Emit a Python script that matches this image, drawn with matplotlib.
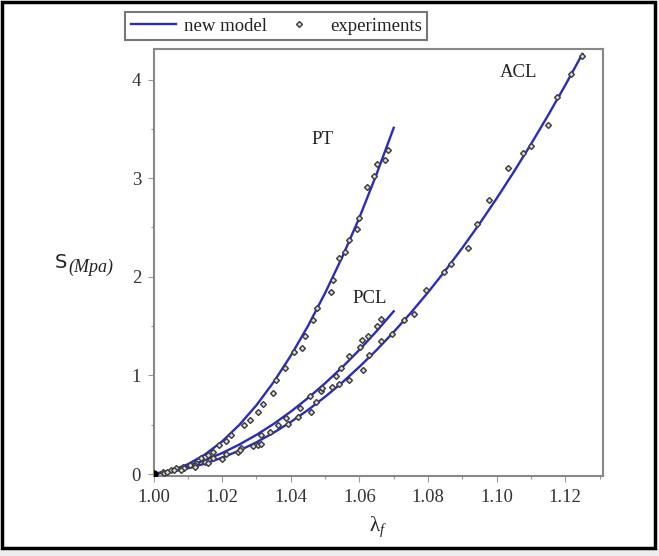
import matplotlib.pyplot as plt
from matplotlib.patches import Rectangle
from matplotlib.lines import Line2D
from matplotlib.ticker import MultipleLocator

# model curves
pt_x = [1.000, 1.005, 1.010, 1.015, 1.020, 1.025, 1.030, 1.035, 1.040,
        1.045, 1.050, 1.055, 1.060, 1.065, 1.070]
pt_y = [0.0, 0.032, 0.099, 0.198, 0.331, 0.498, 0.698, 0.932, 1.20,
        1.50, 1.835, 2.20, 2.60, 3.04, 3.51]

pcl_x = [1.000, 1.005, 1.010, 1.015, 1.020, 1.025, 1.030, 1.035, 1.040,
         1.045, 1.050, 1.055, 1.060, 1.065, 1.070]
pcl_y = [0.0, 0.034, 0.081, 0.140, 0.213, 0.299, 0.397, 0.508, 0.633,
         0.770, 0.920, 1.083, 1.259, 1.448, 1.65]

acl_x = [1.000, 1.005, 1.010, 1.015, 1.020, 1.025, 1.030, 1.035, 1.040,
         1.045, 1.050, 1.055, 1.060, 1.065, 1.070, 1.075, 1.080, 1.085,
         1.090, 1.095, 1.100, 1.105, 1.110, 1.115, 1.120, 1.125]
acl_y = [0.0, 0.023, 0.058, 0.106, 0.166, 0.238, 0.322, 0.419, 0.528,
         0.649, 0.783, 0.928, 1.087, 1.257, 1.44, 1.635, 1.842, 2.061,
         2.293, 2.537, 2.794, 3.063, 3.344, 3.637, 3.942, 4.26]

# experiments
pt_ex_x = [1.000, 1.0027, 1.0052, 1.0066, 1.0085, 1.0105, 1.0124, 1.0139, 1.0158,
           1.0173, 1.0192, 1.0210, 1.0226, 1.0263, 1.0280, 1.0304, 1.0319, 1.0348,
           1.0358, 1.0382, 1.0409, 1.0434, 1.0440, 1.0465, 1.0476, 1.0516, 1.0523,
           1.0540, 1.0559, 1.0571, 1.0593, 1.0599, 1.0622, 1.0642, 1.0652, 1.0675,
           1.0683]
pt_ex_y = [0, 0.02, 0.04, 0.06, 0.07, 0.09, 0.11, 0.16, 0.19,
           0.22, 0.29, 0.33, 0.40, 0.50, 0.55, 0.63, 0.71, 0.82,
           0.95, 1.08, 1.24, 1.28, 1.40, 1.56, 1.68, 1.85, 1.97,
           2.19, 2.25, 2.37, 2.48, 2.60, 2.91, 3.02, 3.14, 3.18,
           3.29]

pcl_ex_x = [1.000, 1.003, 1.006, 1.009, 1.012, 1.015, 1.0173, 1.0212, 1.0246,
            1.0256, 1.0314, 1.0338, 1.0362, 1.0387, 1.0426, 1.0455, 1.0487,
            1.0492, 1.0533, 1.0547, 1.0571, 1.0603, 1.0607, 1.0625, 1.0652, 1.0662]
pcl_ex_y = [0, 0.015, 0.04, 0.06, 0.09, 0.12, 0.16, 0.20, 0.22,
            0.26, 0.40, 0.43, 0.50, 0.57, 0.67, 0.79, 0.84,
            0.87, 0.99, 1.07, 1.20, 1.29, 1.36, 1.40, 1.50, 1.57]

acl_ex_x = [1.000, 1.004, 1.008, 1.012, 1.016, 1.020, 1.0251, 1.0290, 1.0304,
            1.0314, 1.0392, 1.0421, 1.0460, 1.0474, 1.0521, 1.0540, 1.0570,
            1.0610, 1.0628, 1.0664, 1.0696, 1.0729, 1.0759, 1.0795, 1.0846,
            1.0868, 1.0918, 1.0943, 1.0978, 1.1033, 1.1077, 1.1101, 1.1150,
            1.1176, 1.1216, 1.1249]
acl_ex_y = [0, 0.02, 0.04, 0.07, 0.11, 0.15, 0.24, 0.28, 0.29,
            0.30, 0.51, 0.58, 0.63, 0.73, 0.88, 0.91, 0.95,
            1.05, 1.21, 1.35, 1.42, 1.56, 1.62, 1.87, 2.05,
            2.13, 2.29, 2.54, 2.78, 3.10, 3.25, 3.33, 3.54,
            3.82, 4.06, 4.24]

labels = ["PT", "PCL", "ACL"]
label_pos = [(1.0493, 3.39), (1.063, 1.78), (1.1064, 4.07)]

serif = "Liberation Serif"
line_color = "#2b2bbd"
mk_color = "#3a3a3a"

fig = plt.figure(figsize=(6.59, 5.56), dpi=100)
ax = fig.add_axes([0.233, 0.143, 0.682, 0.769])

for x, y in [(pt_x, pt_y), (pcl_x, pcl_y), (acl_x, acl_y)]:
    ax.plot(x, y, color=line_color, lw=1.7, zorder=2)
for x, y in [(pt_ex_x, pt_ex_y), (pcl_ex_x, pcl_ex_y), (acl_ex_x, acl_ex_y)]:
    ax.plot(x, y, ls="none", marker="D", ms=3.0, mfc="#d8d8d8",
            mec=mk_color, mew=1.0, zorder=3)
ax.plot([1.0], [0.0], ls="none", marker="o", ms=5, color="black", zorder=4)

for lab, (lx, ly) in zip(labels, label_pos):
    ax.text(lx, ly, lab, family=serif, fontsize=13.5, ha="center",
            va="center", color="#222222")

ax.set_xlim(1.0, 1.131)
ax.set_ylim(-0.025, 4.31)
ax.xaxis.set_major_locator(MultipleLocator(0.02))
ax.xaxis.set_minor_locator(MultipleLocator(0.01))
ax.yaxis.set_major_locator(MultipleLocator(1))
ax.yaxis.set_minor_locator(MultipleLocator(0.5))
ax.xaxis.set_major_formatter(lambda v, p: f"{v:.2f}")
ax.yaxis.set_major_formatter(lambda v, p: f"{v:.0f}")
ax.tick_params(which="both", direction="out", color="#999999", width=0.8)
ax.tick_params(which="major", length=4, labelsize=13.5, labelcolor="#333333", pad=5)
ax.tick_params(which="minor", length=2.5)
for lbl in ax.get_xticklabels() + ax.get_yticklabels():
    lbl.set_family(serif)
for sp in ax.spines.values():
    sp.set_color("#888888")
    sp.set_linewidth(1.5)

# axis labels
fig.text(55 / 659, 1 - 263 / 556, "S", family="DejaVu Sans", fontsize=14,
         ha="left", va="center", color="#222222")
fig.text(68 / 659, 1 - 267 / 556, "(Mpa)", family=serif, style="italic",
         fontsize=13, ha="left", va="center", color="#222222")
plt.rcParams["mathtext.fontset"] = "custom"
plt.rcParams["mathtext.rm"] = serif
plt.rcParams["mathtext.it"] = serif + ":italic"
fig.text(378 / 659, 1 - 527 / 556, r"$\mathrm{λ}_{f}$", fontsize=15,
         ha="center", va="center", color="#222222")

# legend
handles = [Line2D([], [], color=line_color, lw=1.7),
           Line2D([], [], ls="none", marker="D", ms=3.0, mfc="#d8d8d8",
                  mec=mk_color, mew=1.0)]
leg = fig.legend(handles, ["new model", "experiments"], ncol=2,
                 loc="upper left", bbox_to_anchor=(125 / 659, 1 - 12 / 556),
                 prop={"family": serif, "size": 13.5}, fancybox=False,
                 edgecolor="#777777", framealpha=1, borderpad=0.3,
                 handlelength=2.4, handletextpad=0.45, columnspacing=0.5,
                 borderaxespad=0)
leg.get_frame().set_linewidth(1.5)
for t in leg.get_texts():
    t.set_color("#222222")

# outer frame and bottom strip
fig.patches.append(Rectangle((0, 0), 1, 8 / 556, transform=fig.transFigure,
                             facecolor="#eeeeee", edgecolor="none", zorder=0))
fig.patches.append(Rectangle((2 / 659, 8 / 556), 653 / 659, 546 / 556,
                             transform=fig.transFigure, fill=False,
                             edgecolor="black", lw=2.5, zorder=5))

fig.savefig("out.png", dpi=100)
